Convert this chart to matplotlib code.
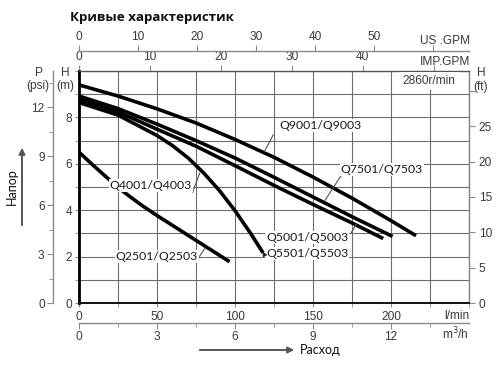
import matplotlib
matplotlib.use('Agg')
import matplotlib.pyplot as plt

# ---- data (flow in l/min, head in m) ----
q9001_q = [0, 25, 50, 75, 100, 125, 150, 175, 200, 216]
q9001_h = [9.40, 8.92, 8.37, 7.76, 7.05, 6.28, 5.43, 4.52, 3.55, 2.90]
q7501_q = [0, 25, 50, 75, 100, 125, 150, 175, 201]
q7501_h = [8.92, 8.38, 7.71, 7.00, 6.25, 5.42, 4.57, 3.72, 2.87]
q5001_q = [0, 25, 50, 75, 100, 125, 150, 175, 195]
q5001_h = [8.78, 8.24, 7.49, 6.76, 5.92, 5.07, 4.25, 3.45, 2.78]
q4001_q = [0, 25, 50, 60, 70, 80, 90, 100, 110, 118]
q4001_h = [8.64, 8.10, 7.22, 6.78, 6.25, 5.60, 4.85, 3.98, 3.00, 2.16]
q2501_q = [0, 10, 20, 30, 40, 50, 75, 96.5]
q2501_h = [6.50, 5.88, 5.28, 4.72, 4.22, 3.77, 2.70, 1.78]

lpm_ticks = [0, 50, 100, 150, 200]
h_ticks = [0, 2, 4, 6, 8]
psi_ticks = [0, 3, 6, 9, 12]
ft_ticks = [0, 5, 10, 15, 20, 25, 30]
ft_labels = ['0', '5', '10', '15', '20', '25', '']
m3h_ticks = [0, 3, 6, 9, 12]
us_ticks = [0, 10, 20, 30, 40, 50, 60]
us_labels = ['0', '10', '20', '30', '40', '50', '']
imp_ticks = [0, 10, 20, 30, 40, 50]
imp_labels = ['0', '10', '20', '30', '40', '']

LPM_US = 3.78541
LPM_IMP = 4.54609
M_PSI = 0.70307
M_FT = 0.3048

TICKFONT = dict(family='Liberation Sans', size=8.6)
LBLFONT = 'Lato'
tcol = '#3a3a3a'
gcol = '#8a8a8a'

W, H = 500, 375
fig = plt.figure(figsize=(5, 3.75), dpi=100)
ax = fig.add_axes([79 / W, 1 - 303 / H, 390 / W, 232 / H])
ax.set_xlim(0, 250)
ax.set_ylim(0, 10)

ax.set_xticks(lpm_ticks)
ax.set_xticks([25, 75, 125, 175, 225, 250], minor=True)
ax.set_yticks(h_ticks)
ax.set_yticks([1, 3, 5, 7, 9, 10], minor=True)
ax.grid(which='both', color='#6e6e6e', lw=0.8)
ax.set_axisbelow(True)
ax.tick_params(which='both', direction='out', length=3, color=gcol, labelcolor=tcol,
               labelsize=8.6, pad=2)
ax.tick_params(axis='x', which='both', pad=3)
for lab in ax.get_xticklabels() + ax.get_yticklabels():
    lab.set_family('Liberation Sans')
ax.spines['left'].set_linewidth(2)
ax.spines['left'].set_color('black')
ax.spines['bottom'].set_linewidth(1.4)
ax.spines['bottom'].set_color('#111111')
ax.spines['top'].set_color('#555555')
ax.spines['right'].set_color('#888888')

# curves
for q, h in [(q9001_q, q9001_h), (q7501_q, q7501_h), (q5001_q, q5001_h),
             (q4001_q, q4001_h), (q2501_q, q2501_h)]:
    ax.plot(q, h, color='black', lw=2.6, solid_capstyle='butt', solid_joinstyle='round', zorder=3)

# curve labels
def label(x, y, s, lx0, ly0, lx1, ly1):
    ax.plot([lx0, lx1], [ly0, ly1], color='#555555', lw=0.8, zorder=4)
    ax.text(x, y, s, ha='center', va='center', family=LBLFONT, size=8.8, color='#1a1a1a',
            zorder=5, bbox=dict(facecolor='white', edgecolor='none', pad=0.6))

label(154.7, 7.65, 'Q9001/Q9003', 124.5, 7.25, 119.0, 6.55)
label(194.0, 5.74, 'Q7501/Q7503', 168.0, 5.49, 157.5, 4.40)
label(146.4, 2.83, 'Q5001/Q5003', 174.6, 3.04, 177.7, 3.40)
label(46.0, 5.05, 'Q4001/Q4003', 72.9, 4.78, 77.4, 5.60)
label(49.9, 2.00, 'Q2501/Q2503', 75.2, 1.80, 80.6, 2.35)
ax.text(146.4, 2.13, 'Q5501/Q5503', ha='center', va='center', family=LBLFONT, size=8.8,
        color='#1a1a1a', zorder=5, bbox=dict(facecolor='white', edgecolor='none', pad=0.6))
ax.annotate('', xy=(116.8, 2.32), xytext=(119.5, 2.0),
            arrowprops=dict(arrowstyle='-|>', color='#222222', lw=0.9, mutation_scale=6), zorder=5)

ax.text(224.5, 9.57, '2860r/min', ha='center', va='center', color=tcol, zorder=5,
        bbox=dict(facecolor='white', edgecolor='none', pad=2.5), **TICKFONT)

# secondary axes
imp = ax.secondary_xaxis('top', functions=(lambda q: q / LPM_IMP, lambda g: g * LPM_IMP))
imp.set_xticks(imp_ticks)
imp.set_xticklabels(imp_labels)
us = ax.secondary_xaxis((303 - 51) / 232, functions=(lambda q: q / LPM_US, lambda g: g * LPM_US))
us.set_xticks(us_ticks)
us.set_xticklabels(us_labels)
m3 = ax.secondary_xaxis(-20 / 232, functions=(lambda q: q * 0.06, lambda m: m / 0.06))
m3.set_xticks(m3h_ticks)
m3.set_xticks([1.5, 4.5, 7.5, 10.5, 13.5], minor=True)
psi = ax.secondary_yaxis(-26 / 390, functions=(lambda m: m / M_PSI, lambda p: p * M_PSI))
psi.set_yticks(psi_ticks)
psi.set_yticks([1.5, 4.5, 7.5, 10.5, 13.5], minor=True)
ft = ax.secondary_yaxis('right', functions=(lambda m: m / M_FT, lambda f: f * M_FT))
ft.set_yticks(ft_ticks)
ft.set_yticklabels(ft_labels)

for sa in (imp, us, m3, psi, ft):
    sa.tick_params(which='both', direction='out', length=4, color=gcol, labelcolor=tcol,
                   labelsize=8.6, pad=1.5)
    sa.tick_params(which='minor', length=3)
    for sp in sa.spines.values():
        sp.set_color(gcol)
        sp.set_linewidth(1.0)
    for lab in sa.xaxis.get_ticklabels() + sa.yaxis.get_ticklabels():
        lab.set_family('Liberation Sans')
psi.tick_params(pad=2)
ft.tick_params(pad=3)

def ftext(x, y, s, **kw):
    kw.setdefault('ha', 'center')
    kw.setdefault('va', 'center')
    fig.text(x / W, 1 - y / H, s, **kw)

ftext(469, 316, 'l/min', ha='right', color=tcol, **TICKFONT)
ftext(469, 334, 'm$^3$/h', ha='right', color=tcol, **TICKFONT)
ftext(470, 41, 'US .GPM', ha='right', color=tcol, **TICKFONT)
ftext(470, 62, 'IMP.GPM', ha='right', color=tcol, **TICKFONT)
ftext(39, 73, 'P', color=tcol, **TICKFONT)
ftext(38, 86, '(psi)', color=tcol, **TICKFONT)
ftext(65, 73, 'H', color=tcol, **TICKFONT)
ftext(65, 86, '(m)', color=tcol, **TICKFONT)
ftext(481, 73, 'H', color=tcol, **TICKFONT)
ftext(481, 87, '(ft)', color=tcol, **TICKFONT)

ftext(152, 17, 'Кривые характеристик', family='Open Sans', weight='bold', size=9.6, color='#111111')
ftext(300, 350, 'Расход', ha='left', family=LBLFONT, size=9, color='#111111')
ftext(12, 187, 'Напор', rotation=90, family=LBLFONT, size=9, color='#111111')

fig.add_artist(matplotlib.patches.FancyArrowPatch(
    (197 / W, 1 - 350 / H), (297 / W, 1 - 350 / H), transform=fig.transFigure,
    arrowstyle='-|>', mutation_scale=9, color='#555555', lw=1.4))
fig.add_artist(matplotlib.patches.FancyArrowPatch(
    (22 / W, 1 - 228 / H), (22 / W, 1 - 145 / H), transform=fig.transFigure,
    arrowstyle='-|>', mutation_scale=9, color='#555555', lw=1.4))

fig.savefig('out.png', dpi=100, facecolor='white')
